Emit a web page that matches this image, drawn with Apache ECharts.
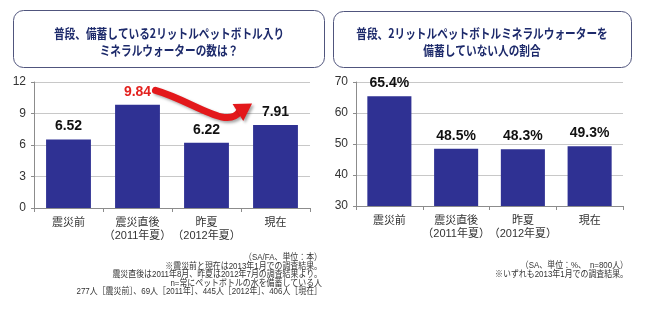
<!DOCTYPE html>
<html><head><meta charset="utf-8">
<script src="https://cdn.jsdelivr.net/npm/echarts@6/dist/echarts.min.js"></script>
<style>html,body{margin:0;padding:0;background:#fff}#c{width:650px;height:329px}</style>
</head><body><div id="c"></div>
<script>
const categories = ['震災前', '震災直後\n（2011年夏）', '昨夏\n（2012年夏）', '現在'];
const bottlesCount = [6.52, 9.84, 6.22, 7.91];
const noStockPct = [65.4, 48.5, 48.3, 49.3];
const leftTicks = {min: 0, max: 12, interval: 3};
const rightTicks = {min: 30, max: 70, interval: 10};
const leftTitle = ['普段、備蓄している2リットルペットボトル入り', 'ミネラルウォーターの数は？'];
const rightTitle = ['普段、2リットルペットボトルミネラルウォーターを', '備蓄していない人の割合'];
const leftNotes = ['（SA/FA、単位：本）', '※震災前と現在は2013年1月での調査結果。', '震災直後は2011年8月、昨夏は2012年7月の調査結果より。', 'n=常にペットボトルの水を備蓄している人', '277人［震災前］、69人［2011年］、445人［2012年］、406人［現在］'];
const rightNotes = ['（SA、単位：%、　n=800人）', '※いずれも2013年1月での調査結果。'];

const FF = 'Liberation Sans, Arial, Noto Sans CJK JP, sans-serif';
const BAR = '#2f3193';
const chart = echarts.init(document.getElementById('c'), null, {renderer: 'canvas'});

function xAxis(gi) {
  return {
    type: 'category', gridIndex: gi, data: categories,
    axisLine: {lineStyle: {color: '#8c8c8c'}},
    axisTick: {show: true, length: 4, lineStyle: {color: '#8c8c8c'}},
    axisLabel: {interval: 0, color: '#333', fontSize: 11, fontFamily: FF, lineHeight: 13, margin: 8, align: 'center'}
  };
}
function yAxis(gi, t) {
  return {
    type: 'value', gridIndex: gi, min: t.min, max: t.max, interval: t.interval,
    axisLine: {show: true, lineStyle: {color: '#8c8c8c'}},
    axisTick: {show: true, length: 3, lineStyle: {color: '#8c8c8c'}},
    axisLabel: {color: '#333', fontSize: 12, fontFamily: FF, margin: 8},
    splitLine: {lineStyle: {color: '#c8c8c8'}}
  };
}

chart.setOption({
  animation: false,
  grid: [
    {left: 34, right: 340, top: 82, bottom: 121},
    {left: 356, right: 27, top: 82, bottom: 123}
  ],
  xAxis: [xAxis(0), xAxis(1)],
  yAxis: [yAxis(0, leftTicks), yAxis(1, rightTicks)],
  series: [
    {type: 'bar', xAxisIndex: 0, yAxisIndex: 0, barWidth: '65%',
     data: bottlesCount.map((v, i) => ({value: v, label: i === 1 ? {color: '#e3221f'} : {}})),
     itemStyle: {color: BAR},
     label: {show: true, position: 'top', distance: 6, color: '#111', fontSize: 14, fontWeight: 'bold', fontFamily: FF,
             formatter: p => p.value.toFixed(2)}},
    {type: 'bar', xAxisIndex: 1, yAxisIndex: 1, barWidth: '66%',
     data: noStockPct, itemStyle: {color: BAR},
     label: {show: true, position: 'top', distance: 6, color: '#111', fontSize: 14, fontWeight: 'bold', fontFamily: FF,
             formatter: p => p.value.toFixed(1) + '%'}}
  ]
});

// Arrow anchored to data coordinates of the left chart
function px(idx, v) {
  const i = Math.floor(idx), f = idx - i;
  const a = chart.convertToPixel({gridIndex: 0}, [i, v]);
  const b = chart.convertToPixel({gridIndex: 0}, [i + 1, v]);
  return [a[0] + (b[0] - a[0]) * f, a[1]];
}
const P0 = px(1.26, 11.2), P1 = px(1.8, 10.2), P2 = px(2.3, 7.4), P3 = px(2.48, 9.2), T = px(2.66, 9.95);
const dx = T[0] - P3[0], dy = T[1] - P3[1], L = Math.hypot(dx, dy);
const nx = -dy / L, ny = dx / L, hw = 10;
const B1 = [P3[0] + nx * hw - dx / L * 2, P3[1] + ny * hw - dy / L * 2];
const B2 = [P3[0] - nx * hw - dx / L * 2, P3[1] - ny * hw - dy / L * 2];

const texts = [];
function titleText(lines, cx) {
  lines.forEach((t, i) => texts.push({type: 'text', x: cx, y: 33 + i * 17, scaleX: 0.82, originX: 0, originY: 0,
    style: {text: t, align: 'center', verticalAlign: 'middle', fill: '#1d2a6b', font: 'bold 13px Noto Sans CJK JP, ' + FF}}));
}
titleText(leftTitle, 169);
titleText(rightTitle, 482);
leftNotes.forEach((t, i) => texts.push({type: 'text', x: 322, y: 258 + i * 8.5, scaleX: 0.88, originX: 0, originY: 0,
  style: {text: t, align: 'right', verticalAlign: 'middle', fill: '#333', font: '9px ' + FF}}));
rightNotes.forEach((t, i) => texts.push({type: 'text', x: 628, y: 266 + i * 9, scaleX: 0.88, originX: 0, originY: 0,
  style: {text: t, align: 'right', verticalAlign: 'middle', fill: '#333', font: '9px ' + FF}}));

chart.setOption({
  graphic: [
    {type: 'rect', shape: {x: 13.5, y: 10.5, width: 311, height: 57, r: 10}, z: -1,
     style: {fill: 'none', stroke: '#50557d', lineWidth: 1}},
    {type: 'rect', shape: {x: 333.5, y: 11.5, width: 298, height: 56, r: 10}, z: -1,
     style: {fill: 'none', stroke: '#50557d', lineWidth: 1}},
    {type: 'bezierCurve', z: 10,
     shape: {x1: P0[0], y1: P0[1], cpx1: P1[0], cpy1: P1[1], cpx2: P2[0], cpy2: P2[1], x2: P3[0], y2: P3[1]},
     style: {stroke: '#e3181b', lineWidth: 7, fill: 'none', lineCap: 'round',
             shadowColor: 'rgba(0,0,0,0.35)', shadowBlur: 3, shadowOffsetX: 2, shadowOffsetY: 2}},
    {type: 'polygon', z: 11, shape: {points: [T, B1, B2]},
     style: {fill: '#e3181b', shadowColor: 'rgba(0,0,0,0.35)', shadowBlur: 3, shadowOffsetX: 2, shadowOffsetY: 2}},
    ...texts
  ]
});
</script></body></html>
